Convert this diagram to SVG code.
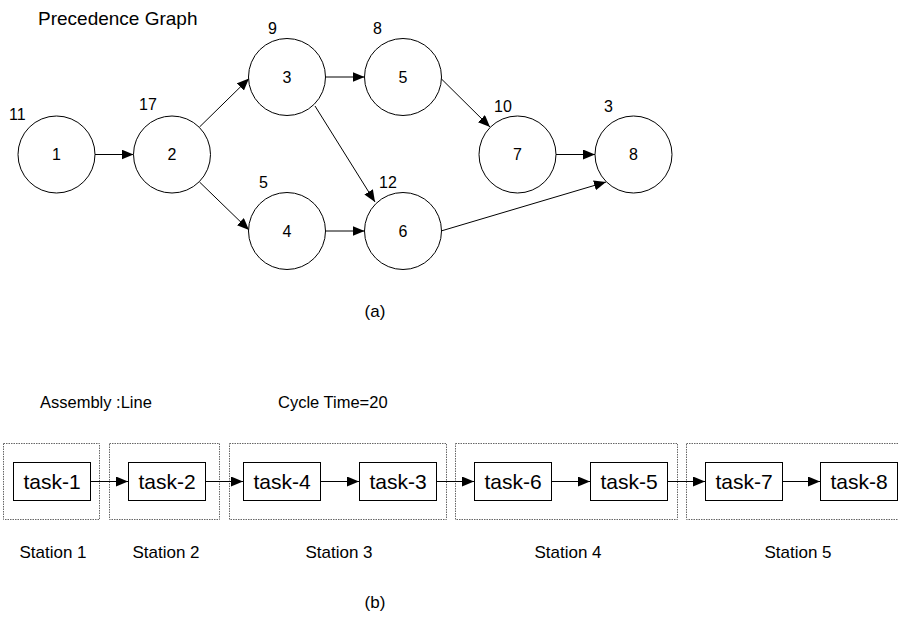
<svg xmlns="http://www.w3.org/2000/svg" width="898" height="628" viewBox="0 0 898 628">
<style>
text{font-family:"Liberation Sans",Arial,sans-serif;fill:#000}
.c{fill:#fff;stroke:#000;stroke-width:1}
.e{stroke:#000;stroke-width:1;fill:none;marker-end:url(#ah)}
.w{font-size:16px}
.n{font-size:16px;text-anchor:middle}
.st{fill:none;stroke:#666;stroke-width:1;stroke-dasharray:1.5 1}
.tb{fill:#fff;stroke:#000;stroke-width:1}
.tt{font-size:21px;text-anchor:middle}
.sl{font-size:17px;text-anchor:middle}
.lb{font-size:16.5px}
.cap{font-size:17px;text-anchor:middle}
</style>
<defs>
<marker id="ah" viewBox="0 0 12 10" refX="12" refY="5" markerWidth="12" markerHeight="10" markerUnits="userSpaceOnUse" orient="auto">
<path d="M0,0 L12,5 L0,10 Z" fill="#000"/>
</marker>
</defs>
<rect width="898" height="628" fill="#fff"/>
<text x="38" y="25" style="font-size:19px">Precedence Graph</text>

<g id="connectors-a">
<line class="e" x1="95" y1="154.5" x2="133.5" y2="154.5"/>
<line class="e" x1="199.5" y1="127" x2="249" y2="78.5"/>
<line class="e" x1="199.5" y1="182" x2="249" y2="230"/>
<line class="e" x1="325.5" y1="77" x2="364.5" y2="77"/>
<line class="e" x1="315" y1="106" x2="375" y2="202"/>
<line class="e" x1="325.5" y1="231" x2="364.5" y2="231"/>
<line class="e" x1="441" y1="78.5" x2="490" y2="127"/>
<line class="e" x1="556" y1="154.5" x2="595" y2="154.5"/>
<line class="e" x1="441" y1="231" x2="606" y2="182"/>
</g>

<g id="node1"><circle class="c" cx="56.5" cy="154.5" r="38.5"/><text class="n" x="56.5" y="160">1</text><text class="w" x="9" y="120">11</text></g>
<g id="node2"><circle class="c" cx="172" cy="154.5" r="38.5"/><text class="n" x="172" y="160">2</text><text class="w" x="139" y="110">17</text></g>
<g id="node3"><circle class="c" cx="287" cy="77" r="38.5"/><text class="n" x="287" y="82.5">3</text><text class="w" x="268" y="34">9</text></g>
<g id="node4"><circle class="c" cx="287" cy="231" r="38.5"/><text class="n" x="287" y="236.5">4</text><text class="w" x="259" y="188">5</text></g>
<g id="node5"><circle class="c" cx="403" cy="77" r="38.5"/><text class="n" x="403" y="82.5">5</text><text class="w" x="373" y="34">8</text></g>
<g id="node6"><circle class="c" cx="403" cy="231" r="38.5"/><text class="n" x="403" y="236.5">6</text><text class="w" x="379" y="188">12</text></g>
<g id="node7"><circle class="c" cx="517.5" cy="154.5" r="38.5"/><text class="n" x="517.5" y="160">7</text><text class="w" x="494" y="112">10</text></g>
<g id="node8"><circle class="c" cx="633.5" cy="154.5" r="38.5"/><text class="n" x="633.5" y="160">8</text><text class="w" x="604" y="112">3</text></g>

<text x="375" y="317" class="cap">(a)</text>

<text x="40" y="408" class="lb">Assembly :Line</text>
<text x="278" y="408" class="lb">Cycle Time=20</text>

<g id="station1"><rect class="st" x="3.5" y="443.5" width="96" height="76"/><text class="sl" x="53" y="558">Station 1</text></g>
<g id="station2"><rect class="st" x="109.5" y="443.5" width="110" height="76"/><text class="sl" x="166" y="558">Station 2</text></g>
<g id="station3"><rect class="st" x="229.5" y="443.5" width="217" height="76"/><text class="sl" x="339" y="558">Station 3</text></g>
<g id="station4"><rect class="st" x="455.5" y="443.5" width="222" height="76"/><text class="sl" x="568" y="558">Station 4</text></g>
<g id="station5"><rect class="st" x="686.5" y="443.5" width="220" height="76"/><text class="sl" x="798" y="558">Station 5</text></g>

<g id="connectors-b">
<line class="e" x1="90" y1="481.5" x2="128" y2="481.5"/>
<line class="e" x1="205" y1="481.5" x2="243" y2="481.5"/>
<line class="e" x1="321" y1="481.5" x2="359" y2="481.5"/>
<line class="e" x1="436" y1="481.5" x2="474" y2="481.5"/>
<line class="e" x1="551" y1="481.5" x2="590" y2="481.5"/>
<line class="e" x1="667" y1="481.5" x2="705" y2="481.5"/>
<line class="e" x1="782" y1="481.5" x2="820" y2="481.5"/>
</g>

<g id="task1"><rect class="tb" x="13.5" y="462.5" width="77" height="38"/><text class="tt" x="52" y="489">task-1</text></g>
<g id="task2"><rect class="tb" x="128.5" y="462.5" width="77" height="38"/><text class="tt" x="167" y="489">task-2</text></g>
<g id="task4"><rect class="tb" x="243.5" y="462.5" width="77" height="38"/><text class="tt" x="282" y="489">task-4</text></g>
<g id="task3"><rect class="tb" x="359.5" y="462.5" width="77" height="38"/><text class="tt" x="398" y="489">task-3</text></g>
<g id="task6"><rect class="tb" x="474.5" y="462.5" width="77" height="38"/><text class="tt" x="513" y="489">task-6</text></g>
<g id="task5"><rect class="tb" x="590.5" y="462.5" width="77" height="38"/><text class="tt" x="629" y="489">task-5</text></g>
<g id="task7"><rect class="tb" x="705.5" y="462.5" width="77" height="38"/><text class="tt" x="744" y="489">task-7</text></g>
<g id="task8"><rect class="tb" x="820.5" y="462.5" width="77" height="38"/><text class="tt" x="859" y="489">task-8</text></g>

<text x="375" y="608" class="cap">(b)</text>
</svg>
